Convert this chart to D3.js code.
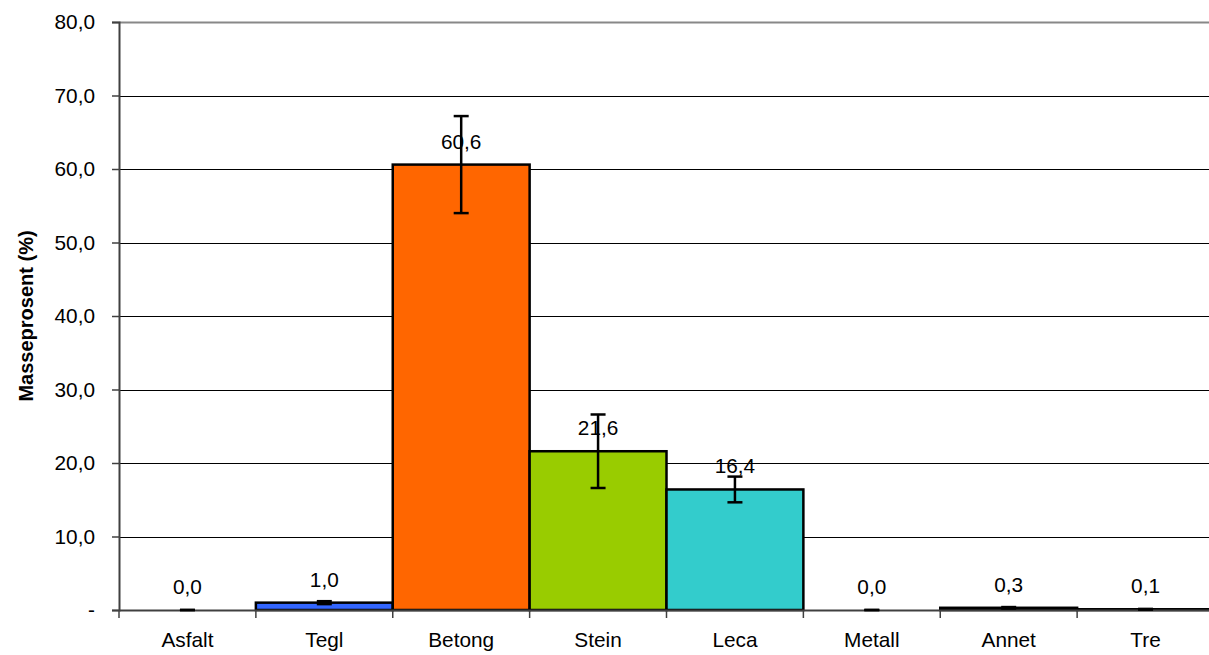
<!DOCTYPE html>
<html><head><meta charset="utf-8">
<script src="https://cdn.jsdelivr.net/npm/d3@7"></script>
<style>body{margin:0;background:#fff;}svg{display:block;font-family:Arial,"Liberation Sans",sans-serif;}</style>
</head><body>
<svg id="c" width="1209" height="655"></svg>
<script>
const categories = ["Asfalt","Tegl","Betong","Stein","Leca","Metall","Annet","Tre"];
const values = [0.0, 1.0, 60.6, 21.6, 16.4, 0.0, 0.3, 0.1];
const errors = [0.0, 0.2, 6.6, 5.0, 1.75, 0.0, 0.1, 0.05];
const colors = ["#808080","#3366FF","#FF6600","#99CC00","#33CCCC","#808080","#333333","#333333"];
const yTicks = [0,10,20,30,40,50,60,70,80];
const yLabel = "Masseprosent (%)";

const fmt = v => v === 0 ? "-" : v.toFixed(1).replace(".", ",");
const fmtVal = v => v.toFixed(1).replace(".", ",");

const svg = d3.select("#c");
const L = 119, R = 1214, T = 22, B = 610;
const FS = 20.8;
const x = d3.scaleBand().domain(categories).range([L, R]).padding(0);
const y = d3.scaleLinear().domain([0, 80]).range([B, T]);

// gridlines
svg.append("g").selectAll("line").data(yTicks.filter(t => t > 0)).join("line")
  .attr("x1", L).attr("x2", R)
  .attr("y1", d => Math.round(y(d)) + 0.5).attr("y2", d => Math.round(y(d)) + 0.5)
  .attr("stroke", d => d === 80 ? "#888" : "#000")
  .attr("stroke-width", d => d === 80 ? 2 : 1);

// y axis
const yAxis = d3.axisLeft(y).tickValues(yTicks).tickFormat(fmt).tickSize(7).tickPadding(17);
const gy = svg.append("g").attr("transform", `translate(${L},0)`).call(yAxis);
gy.select(".domain").attr("stroke", "#404040").attr("stroke-width", 2);
gy.selectAll(".tick line").attr("stroke", "#404040").attr("stroke-width", 1.5);
gy.selectAll("text").attr("font-size", FS).attr("fill", "#000").attr("font-family", "Arial, 'Liberation Sans', sans-serif");

// bars
svg.append("g").selectAll("rect").data(categories).join("rect")
  .attr("x", d => x(d)).attr("width", x.bandwidth())
  .attr("y", (d, i) => y(values[i])).attr("height", (d, i) => B - y(values[i]))
  .attr("fill", (d, i) => colors[i])
  .attr("stroke", "#000").attr("stroke-width", 2.5);

// x axis
const xAxis = d3.axisBottom(x).tickSize(0).tickPadding(22);
const gx = svg.append("g").attr("transform", `translate(0,${B})`).call(xAxis);
gx.select(".domain").attr("stroke", "#404040").attr("stroke-width", 2);
gx.selectAll("text").attr("font-size", FS).attr("fill", "#000").attr("font-family", "Arial, 'Liberation Sans', sans-serif");
// x tick marks at band boundaries
svg.append("g").selectAll("line").data(categories).join("line")
  .attr("x1", d => x(d)).attr("x2", d => x(d))
  .attr("y1", B).attr("y2", B + 8)
  .attr("stroke", "#404040").attr("stroke-width", 1.5);

// value labels
svg.append("g").selectAll("text").data(categories).join("text")
  .attr("x", d => x(d) + x.bandwidth() / 2)
  .attr("y", (d, i) => y(values[i]) - 16)
  .attr("text-anchor", "middle").attr("font-size", FS).attr("fill", "#000")
  .text((d, i) => fmtVal(values[i]));

// error bars
const eg = svg.append("g").attr("stroke", "#000").attr("stroke-width", 2.5);
categories.forEach((c, i) => {
  const cx = x(c) + x.bandwidth() / 2;
  const y1 = y(values[i] + errors[i]), y0 = y(Math.max(0, values[i] - errors[i]));
  eg.append("line").attr("x1", cx).attr("x2", cx).attr("y1", y1).attr("y2", y0);
  eg.append("line").attr("x1", cx - 7.5).attr("x2", cx + 7.5).attr("y1", y1).attr("y2", y1);
  eg.append("line").attr("x1", cx - 7.5).attr("x2", cx + 7.5).attr("y1", y0).attr("y2", y0);
});

// y label
svg.append("text")
  .attr("transform", `translate(33,${(T + B) / 2}) rotate(-90)`)
  .attr("text-anchor", "middle").attr("font-size", 20).attr("font-weight", "bold")
  .text(yLabel);
</script>
</body></html>
